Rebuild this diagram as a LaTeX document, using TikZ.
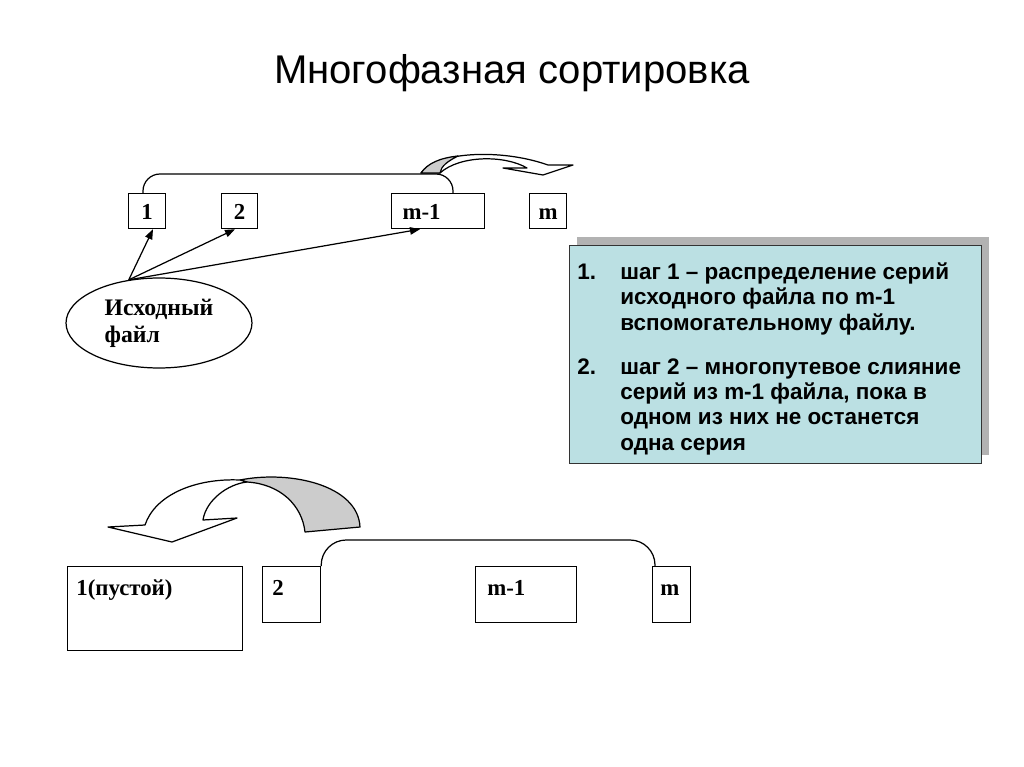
\documentclass[tikz,border=0pt]{standalone}
\usepackage{fontspec}
\setmainfont{Liberation Serif}
\setsansfont{Liberation Sans}
\usetikzlibrary{shapes.geometric,arrows.meta,calc}
\definecolor{boxblue}{RGB}{187,224,227}
\definecolor{shadowgray}{RGB}{178,178,178}
\definecolor{foldgray}{RGB}{204,204,204}
\tikzset{
  filebox/.style={draw=black, line width=0.7pt, rectangle, inner sep=0pt, anchor=north west,
    font=\fontsize{13}{15}\selectfont\bfseries, text height=0.34cm, text depth=0pt},
  cornerlabel/.style={anchor=north west, inner sep=0pt, font=\fontsize{13}{15}\selectfont\bfseries,
    text height=8.8pt, text depth=0pt},
  feed/.style={line width=0.7pt, -{Triangle[length=0.2cm,width=0.15cm]}},
  bracket/.style={line width=0.7pt},
  bentarrow/.style={line width=0.7pt, draw=black, line join=round},
}
\begin{document}
\begin{tikzpicture}[x=0.02cm,y=-0.02cm]
\useasboundingbox (0,0) rectangle (1024,767);

% title
\node[font=\sffamily\fontsize{22.8}{27}\selectfont] (title) at (512,73) {Многофазная сортировка};

% top row of files
\node[filebox, minimum width=0.74cm, minimum height=0.70cm] (b1) at (128,193) {1};
\node[filebox, minimum width=0.72cm, minimum height=0.70cm] (b2) at (221,193) {2};
\node[filebox, minimum height=0.70cm, text width=1.42cm, align=left, inner xsep=0.22cm] (bm1) at (391,193) {m-1};
\node[filebox, minimum width=0.74cm, minimum height=0.70cm] (bm) at (529,193) {m};

% bracket on top row
\draw[bracket, rounded corners=0.34cm] ($(b1.north west)+(15,0)$) |- ($(bm1.north west)+(62,-19)$) -- ($(bm1.north west)+(62,0)$);

% top bent arrow
\filldraw[bentarrow, fill=white] (421,173) .. controls (435,152) and (500,148) .. (548,165) -- (573,165) -- (543,175) -- (503,168) -- (527,168) .. controls (505,155) and (460,155) .. (440,173) -- cycle;
\filldraw[bentarrow, fill=foldgray] (421,173) .. controls (428,163) and (440,158) .. (458,156) .. controls (448,161) and (441,166) .. (440,173) -- cycle;

% source file
\node[ellipse, draw=black, line width=0.7pt, minimum width=3.72cm, minimum height=1.80cm, inner sep=0pt,
  align=left, font=\fontsize{13.5}{15.3}\selectfont\bfseries] (src) at (159,323) {Исходный\\файл};
\draw[feed] (src.125) -- ($(b1.south west)+(25,0)$);
\draw[feed] (src.125) -- ($(b2.south west)+(14,0)$);
\draw[feed] (src.125) -- ($(bm1.south west)+(29,0)$);

% steps box
\fill[shadowgray] (577,237) rectangle (989,455);
\node[draw=black!80, fill=boxblue, line width=0.7pt, anchor=north west, minimum width=8.24cm, minimum height=4.36cm, inner sep=0pt] (steps) at (569,245) {};
\node[anchor=north west, inner sep=0pt, align=left, font=\sffamily\bfseries\fontsize{12.8}{14.5}\selectfont] (stepstext) at ($(steps.north west)+(8,17)$) {%
\makebox[0.86cm][l]{1.}шаг 1 – распределение серий\\
\makebox[0.86cm][l]{}исходного файла по m-1\\
\makebox[0.86cm][l]{}вспомогательному файлу.\\[0.37cm]
\makebox[0.86cm][l]{2.}шаг 2 – многопутевое слияние\\
\makebox[0.86cm][l]{}серий из m-1 файла, пока в\\
\makebox[0.86cm][l]{}одном из них не останется\\
\makebox[0.86cm][l]{}одна серия};

% bottom row of files
\node[filebox, minimum width=3.50cm, minimum height=1.68cm,
  label={[cornerlabel, xshift=0.18cm, yshift=-0.27cm]north west:1(пустой)}] (c1) at (67,566) {};
\node[filebox, minimum width=1.16cm, minimum height=1.12cm,
  label={[cornerlabel, xshift=0.2cm, yshift=-0.27cm]north west:2}] (c2) at (262,566) {};
\node[filebox, minimum width=2.02cm, minimum height=1.12cm,
  label={[cornerlabel, xshift=0.24cm, yshift=-0.27cm]north west:m-1}] (cm1) at (475,566) {};
\node[filebox, minimum width=0.76cm, minimum height=1.12cm,
  label={[cornerlabel, xshift=0.16cm, yshift=-0.27cm]north west:m}] (cm) at (652,566) {};

% bracket on bottom row
\draw[bracket, rounded corners=0.5cm] (c2.north east) |- ($(cm.north west)+(3,-26)$) -- ($(cm.north west)+(3,0)$);

% bottom bent arrow
\filldraw[bentarrow, fill=foldgray] (240,480) .. controls (290,470) and (358,485) .. (360,527) -- (305,532) .. controls (302,505) and (280,484) .. (247,482) -- cycle;
\filldraw[bentarrow, fill=white] (145,525) .. controls (155,495) and (195,478) .. (240,480) -- (247,482) .. controls (228,484) and (206,500) .. (203,520) -- (237,518) -- (172,542) -- (108,527) -- cycle;
\end{tikzpicture}
\end{document}
